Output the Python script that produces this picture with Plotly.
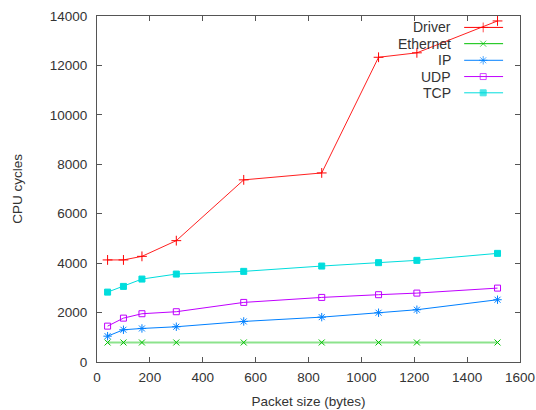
import plotly.graph_objects as go

# Packet sizes (bytes) and CPU cycles per protocol layer
packet_size = [40, 100, 170, 300, 555, 850, 1065, 1210, 1515]
driver = [4130, 4130, 4275, 4910, 7370, 7650, 12330, 12510, 13800]
ethernet = [790, 790, 790, 790, 790, 790, 790, 790, 790]
ip = [1045, 1305, 1357, 1426, 1641, 1815, 1993, 2115, 2520]
udp = [1451, 1775, 1953, 2034, 2411, 2613, 2723, 2788, 2990]
tcp = [2828, 3059, 3356, 3558, 3667, 3882, 4019, 4113, 4396]

x_ticks = [0, 200, 400, 600, 800, 1000, 1200, 1400, 1600]
y_ticks = [0, 2000, 4000, 6000, 8000, 10000, 12000, 14000]

# name, values, colour, marker symbol, marker size, in-plot line colour, line width
series = [
    ("Driver", driver, "#ff0000", "cross-thin-open", 7, "#ff2020", 1),
    ("Ethernet", ethernet, "#00c000", "x-thin-open", 6, "rgba(0,192,0,0.45)", 2.2),
    ("IP", ip, "#0080ff", "asterisk-open", 7, "#0080ff", 1),
    ("UDP", udp, "#c000ff", "square-open", 6, "#c000ff", 1),
    ("TCP", tcp, "#00dddd", "square", 6, "#00dddd", 1),
]

FONT = "Liberation Sans, Arial, sans-serif"
TXT = "#333333"

fig = go.Figure()

for name, vals, color, sym, size, lcolor, lw in series:
    fig.add_trace(go.Scatter(
        x=packet_size, y=vals, mode="lines", name=name,
        line=dict(color=lcolor, width=lw),
        showlegend=False, hoverinfo="skip",
    ))
    fig.add_trace(go.Scatter(
        x=packet_size, y=vals, mode="markers", name=name,
        marker=dict(symbol=sym, size=size, color=color,
                    line=dict(color=color, width=1)),
        showlegend=False,
    ))

# Key drawn in the upper right, text to the left of each sample
row_y = [0.967, 0.920, 0.872, 0.825, 0.778]
line_x0, line_xm, line_x1 = 0.868, 0.913, 0.960
for (name, vals, color, sym, size, lcolor, lw), yy in zip(series, row_y):
    fig.add_trace(go.Scatter(
        x=[line_x0, line_xm, line_x1], y=[yy, yy, yy],
        xaxis="x2", yaxis="y2", mode="lines+markers",
        line=dict(color=color, width=1),
        marker=dict(symbol=sym, size=[0, size, 0], color=color,
                    line=dict(color=color, width=1)),
        showlegend=False, hoverinfo="skip",
    ))
    fig.add_annotation(
        x=0.841, y=yy, xref="paper", yref="paper", text=name,
        showarrow=False, xanchor="right", yanchor="middle",
        font=dict(family=FONT, size=14, color=TXT),
    )

axis_common = dict(
    showgrid=False, zeroline=False, showline=True, linecolor="#555555",
    linewidth=1, mirror="ticks", ticks="inside", ticklen=5,
    tickcolor="#555555", tickfont=dict(family=FONT, size=13.5, color=TXT),
    automargin=False,
)

fig.update_layout(
    width=536, height=410,
    margin=dict(l=97, r=16, t=16, b=48),
    paper_bgcolor="white", plot_bgcolor="white",
    xaxis=dict(range=[0, 1600], tickvals=x_ticks,
               ticktext=[str(v) for v in x_ticks], ticklabelstandoff=3,
               title=dict(text="Packet size (bytes)", standoff=12,
                          font=dict(family=FONT, size=13.5, color=TXT)),
               **axis_common),
    yaxis=dict(range=[0, 14000], tickvals=y_ticks,
               ticktext=[str(v) for v in y_ticks], ticklabelstandoff=6,
               title=dict(text="CPU cycles", standoff=24,
                          font=dict(family=FONT, size=13.5, color=TXT)),
               **axis_common),
    xaxis2=dict(range=[0, 1], overlaying="x", visible=False),
    yaxis2=dict(range=[0, 1], overlaying="y", visible=False),
)

fig.write_html("out.html")
